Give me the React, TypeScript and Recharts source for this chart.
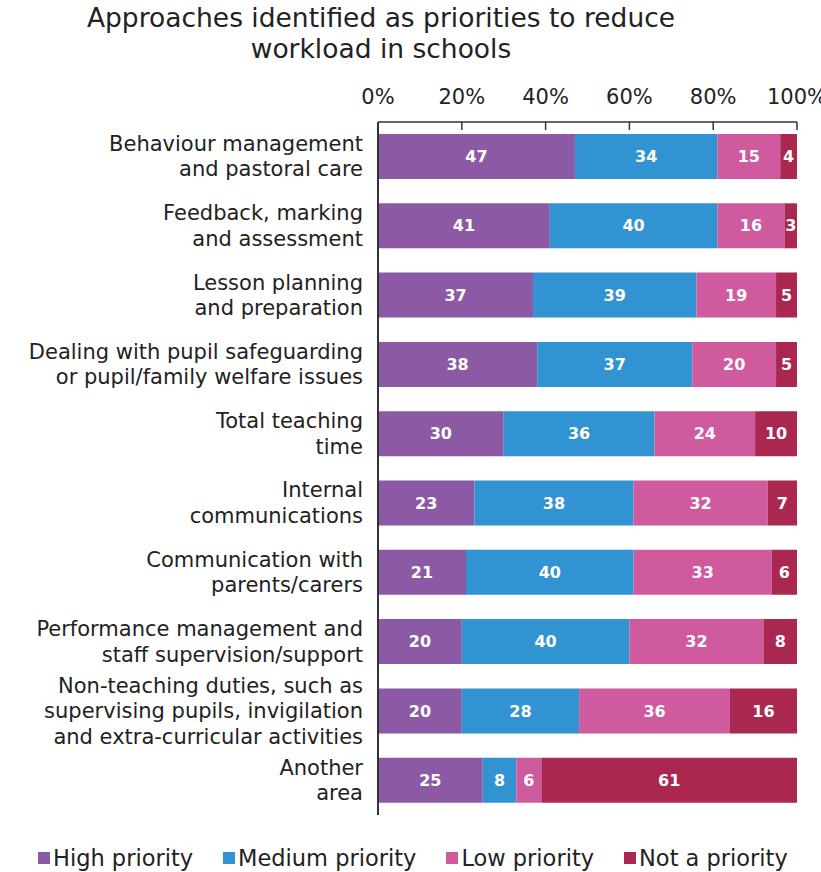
import React from "react";
import { BarChart, Bar, XAxis, YAxis, LabelList } from "recharts";

const categories = [
  "Behaviour management\nand pastoral care",
  "Feedback, marking\nand assessment",
  "Lesson planning\nand preparation",
  "Dealing with pupil safeguarding\nor pupil/family welfare issues",
  "Total teaching\ntime",
  "Internal\ncommunications",
  "Communication with\nparents/carers",
  "Performance management and\nstaff supervision/support",
  "Non-teaching duties, such as\nsupervising pupils, invigilation\nand extra-curricular activities",
  "Another\narea",
];
const high = [47, 41, 37, 38, 30, 23, 21, 20, 20, 25];
const medium = [34, 40, 39, 37, 36, 38, 40, 40, 28, 8];
const low = [15, 16, 19, 20, 24, 32, 33, 32, 36, 6];
const notPriority = [4, 3, 5, 5, 10, 7, 6, 8, 16, 61];
const xTicks = [0, 20, 40, 60, 80, 100];

const series = [
  { key: "high", name: "High priority", color: "#8C5AA5" },
  { key: "medium", name: "Medium priority", color: "#3193D2" },
  { key: "low", name: "Low priority", color: "#CF5A9E" },
  { key: "not", name: "Not a priority", color: "#AA2750" },
];

const data = categories.map((name, i) => ({
  name,
  high: high[i],
  medium: medium[i],
  low: low[i],
  not: notPriority[i],
}));

const FONT = "'DejaVu Sans', sans-serif";
const W = 821;
const H = 872;
const MARGIN = { top: 72, right: 24, bottom: 57, left: 0 };
const X_AXIS_H = 50;
const Y_AXIS_W = 378;
const PLOT_TOP = MARGIN.top + X_AXIS_H;
const PLOT_LEFT = MARGIN.left + Y_AXIS_W;

const XTick = (props: any) => {
  const { x, payload } = props;
  return (
    <g>
      <line x1={x} x2={x} y1={PLOT_TOP} y2={PLOT_TOP + 8} stroke="#333" strokeWidth={1.5} />
      <text x={x} y={PLOT_TOP - 18} textAnchor="middle" fontSize={21} fill="#222" fontFamily={FONT}>
        {payload.value}%
      </text>
    </g>
  );
};

const YTick = (props: any) => {
  const { y, payload } = props;
  const lines = String(payload.value).split("\n");
  const lh = 25.5;
  const start = -((lines.length - 1) * lh) / 2;
  return (
    <text
      x={PLOT_LEFT - 15}
      y={y}
      textAnchor="end"
      fontSize={21}
      fill="#222"
      fontFamily={FONT}
    >
      {lines.map((l, i) => (
        <tspan key={i} x={PLOT_LEFT - 15} dy={i === 0 ? start : lh} dominantBaseline="central">
          {l}
        </tspan>
      ))}
    </text>
  );
};

export default function App() {
  return (
    <div
      style={{
        position: "absolute",
        left: 0,
        top: 0,
        width: W,
        height: H,
        overflow: "hidden",
        background: "#fff",
        fontFamily: FONT,
      }}
    >
      <div
        style={{
          position: "absolute",
          left: 0,
          width: 762,
          top: 2,
          textAlign: "center",
          fontSize: 26.5,
          lineHeight: "31px",
          color: "#222",
        }}
      >
        Approaches identified as priorities to reduce
        <br />
        workload in schools
      </div>
      <div style={{ position: "absolute", left: 0, top: 0 }}>
        <BarChart
          width={W}
          height={H}
          data={data}
          layout="vertical"
          margin={MARGIN}
          barSize={45}
        >
          <XAxis
            type="number"
            domain={[0, 100]}
            ticks={xTicks}
            orientation="top"
            height={X_AXIS_H}
            axisLine={{ stroke: "#333", strokeWidth: 1.5 }}
            tickLine={false}
            tick={<XTick />}
            interval={0}
          />
          <YAxis
            type="category"
            dataKey="name"
            width={Y_AXIS_W}
            axisLine={{ stroke: "#333", strokeWidth: 2 }}
            tickLine={false}
            tick={<YTick />}
            interval={0}
          />
          {series.map((s) => (
            <Bar key={s.key} dataKey={s.key} name={s.name} stackId="a" fill={s.color} isAnimationActive={false}>
              <LabelList
                dataKey={s.key}
                position="center"
                fill="#fff"
                fontSize={16}
                fontWeight="bold"
                fontFamily={FONT}
              />
            </Bar>
          ))}
        </BarChart>
      </div>
      <div
        style={{
          position: "absolute",
          left: 38,
          top: 845,
          display: "flex",
          alignItems: "center",
          fontSize: 22.5,
          color: "#222",
          lineHeight: "26px",
        }}
      >
        {series.map((s, i) => (
          <div key={s.key} style={{ display: "flex", alignItems: "center", marginRight: i < series.length - 1 ? 30 : 0 }}>
            <div style={{ width: 12, height: 12, background: s.color, marginRight: 3 }} />
            <span>{s.name}</span>
          </div>
        ))}
      </div>
    </div>
  );
}
